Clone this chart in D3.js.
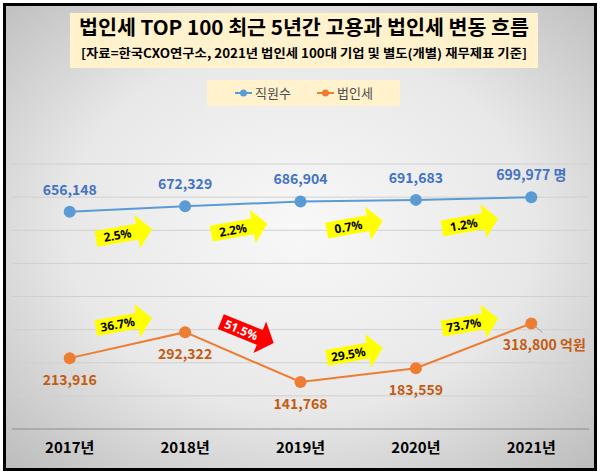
<!DOCTYPE html>
<html><head><meta charset="utf-8">
<script src="https://cdn.jsdelivr.net/npm/d3@7"></script>
<style>html,body{margin:0;padding:0;background:#fff;}svg{display:block;}</style>
</head><body>
<svg id="c" width="600" height="473"></svg>
<script>
const years = ["2017년","2018년","2019년","2020년","2021년"];
const employees = [656148, 672329, 686904, 691683, 699977];
const corpTax = [213916, 292322, 141768, 183559, 318800];
const empChange = ["2.5%","2.2%","0.7%","1.2%"];
const taxChange = ["36.7%","51.5%","29.5%","73.7%"];
const seriesNames = ["직원수","법인세"];
const units = ["명","억원"];
const titleText = "법인세 TOP 100 최근 5년간 고용과 법인세 변동 흐름";
const subtitleText = "[자료=한국CXO연구소, 2021년 법인세 100대 기업 및 별도(개별) 재무제표 기준]";

const svg = d3.select("#c");
const font = "'Noto Sans CJK KR','Noto Sans',sans-serif";
const defs = svg.append("defs");
const rg = defs.append("radialGradient").attr("id","bg").attr("cx","50%").attr("cy","48%").attr("r","72%");
rg.append("stop").attr("offset","0%").attr("stop-color","#f8f8f8");
rg.append("stop").attr("offset","55%").attr("stop-color","#e8e8e8");
rg.append("stop").attr("offset","100%").attr("stop-color","#bcbcbc");

svg.append("rect").attr("x",4.5).attr("y",4.5).attr("width",591).attr("height",465)
  .attr("fill","url(#bg)").attr("stroke","#000").attr("stroke-width",3);

// Title
svg.append("rect").attr("x",70).attr("y",13).attr("width",468).attr("height",55).attr("fill","#fff2cc");
svg.append("text").attr("x",304).attr("y",35).attr("text-anchor","middle")
  .attr("font-family",font).attr("font-weight","bold").attr("font-size",20)
  .attr("textLength",450).attr("lengthAdjust","spacingAndGlyphs").text(titleText);
svg.append("text").attr("x",304).attr("y",58).attr("text-anchor","middle")
  .attr("font-family",font).attr("font-weight","bold").attr("font-size",12.5)
  .attr("textLength",446).attr("lengthAdjust","spacingAndGlyphs").text(subtitleText);

const x = d3.scaleBand().domain(years).range([12,589]);
const y = d3.scaleLinear().domain([0,800000]).range([429,164]);
const cx = d => x(d) + x.bandwidth()/2;

// gridlines
const g = svg.append("g");
g.selectAll("line.grid").data(y.ticks(8)).join("line")
  .attr("x1",12).attr("x2",589).attr("y1",d=>y(d)).attr("y2",d=>y(d))
  .attr("stroke", d=> d===0 ? "#8c8c8c" : "#d0d0d0").attr("stroke-width",1);

// x axis labels
const xa = svg.append("g").attr("transform","translate(0,429)")
  .call(d3.axisBottom(x).tickSize(0).tickPadding(10));
xa.select(".domain").remove();
xa.selectAll("text").attr("font-family",font).attr("font-weight","bold").attr("font-size",15).attr("fill","#000")
  .attr("dy","0.9em");

// Legend
svg.append("rect").attr("x",207).attr("y",80).attr("width",193).attr("height",26).attr("fill","#fff2cc");
const legCols = ["#5b9bd5","#ed7d31"];
const legX = [235,317];
seriesNames.forEach((n,i)=>{
  const lg = svg.append("g").attr("transform",`translate(${legX[i]},93)`);
  lg.append("line").attr("x1",0).attr("x2",17).attr("stroke",legCols[i]).attr("stroke-width",2);
  lg.append("circle").attr("cx",8.5).attr("r",3.5).attr("fill",legCols[i]);
  lg.append("text").attr("x",20).attr("y",5).attr("font-family",font).attr("font-size",13).attr("fill","#4d4d4d").text(n);
});

function drawSeries(vals, lineCol, labCol, labAbove, unit, lastShift){
  const line = d3.line().x((d,i)=>cx(years[i])).y(d=>y(d));
  svg.append("path").datum(vals).attr("d",line).attr("fill","none").attr("stroke",lineCol).attr("stroke-width",2);
  svg.selectAll(null).data(vals).join("circle")
    .attr("cx",(d,i)=>cx(years[i])).attr("cy",d=>y(d)).attr("r",6).attr("fill",lineCol);
  svg.selectAll(null).data(vals).join("text")
    .attr("x",(d,i)=>cx(years[i]) + (i===vals.length-1 ? lastShift : 0))
    .attr("y",d=> labAbove ? y(d)-17 : y(d)+27)
    .attr("text-anchor","middle").attr("font-family",font).attr("font-weight","bold").attr("font-size",14)
    .attr("fill",labCol)
    .text((d,i)=> d3.format(",")(d) + (i===vals.length-1 ? " " + unit : ""));
}
drawSeries(employees,"#5b9bd5","#4472c4",true,units[0],0);
drawSeries(corpTax,"#ed7d31","#c55a11",false,units[1],13);
// leader line for last orange label
{
  const px = cx(years[4]), py = y(corpTax[4]);
  svg.append("line").attr("x1",px+4).attr("y1",py+3).attr("x2",px+11).attr("y2",py+9)
    .attr("stroke","#a0a0a0").attr("stroke-width",1);
}

// block arrows
const arrowPath = "M-28,-8 L14,-8 L14,-17 L29,0 L14,17 L14,8 L-28,8 Z";
function drawArrows(vals, labels, dy){
  labels.forEach((lab,i)=>{
    const up = vals[i+1] >= vals[i];
    const mx = (cx(years[i]) + cx(years[i+1]))/2 + (up ? -4 : 4);
    const my = (y(vals[i]) + y(vals[i+1]))/2 + dy + (up ? 0 : -3);
    const rot = up ? -10 : 22;
    const a = svg.append("g").attr("transform",`translate(${mx},${my}) rotate(${rot})`);
    a.append("path").attr("d",arrowPath).attr("fill", up ? "#ffff00" : "#ff0000");
    a.append("text").attr("x",-6).attr("y",4.5).attr("text-anchor","middle")
      .attr("font-family","'Noto Sans',sans-serif").attr("font-weight","bold").attr("font-size",12)
      .attr("fill", up ? "#000" : "#fff").text(lab);
  });
}
drawArrows(employees, empChange, 25);
drawArrows(corpTax, taxChange, -22);
</script>
</body></html>
